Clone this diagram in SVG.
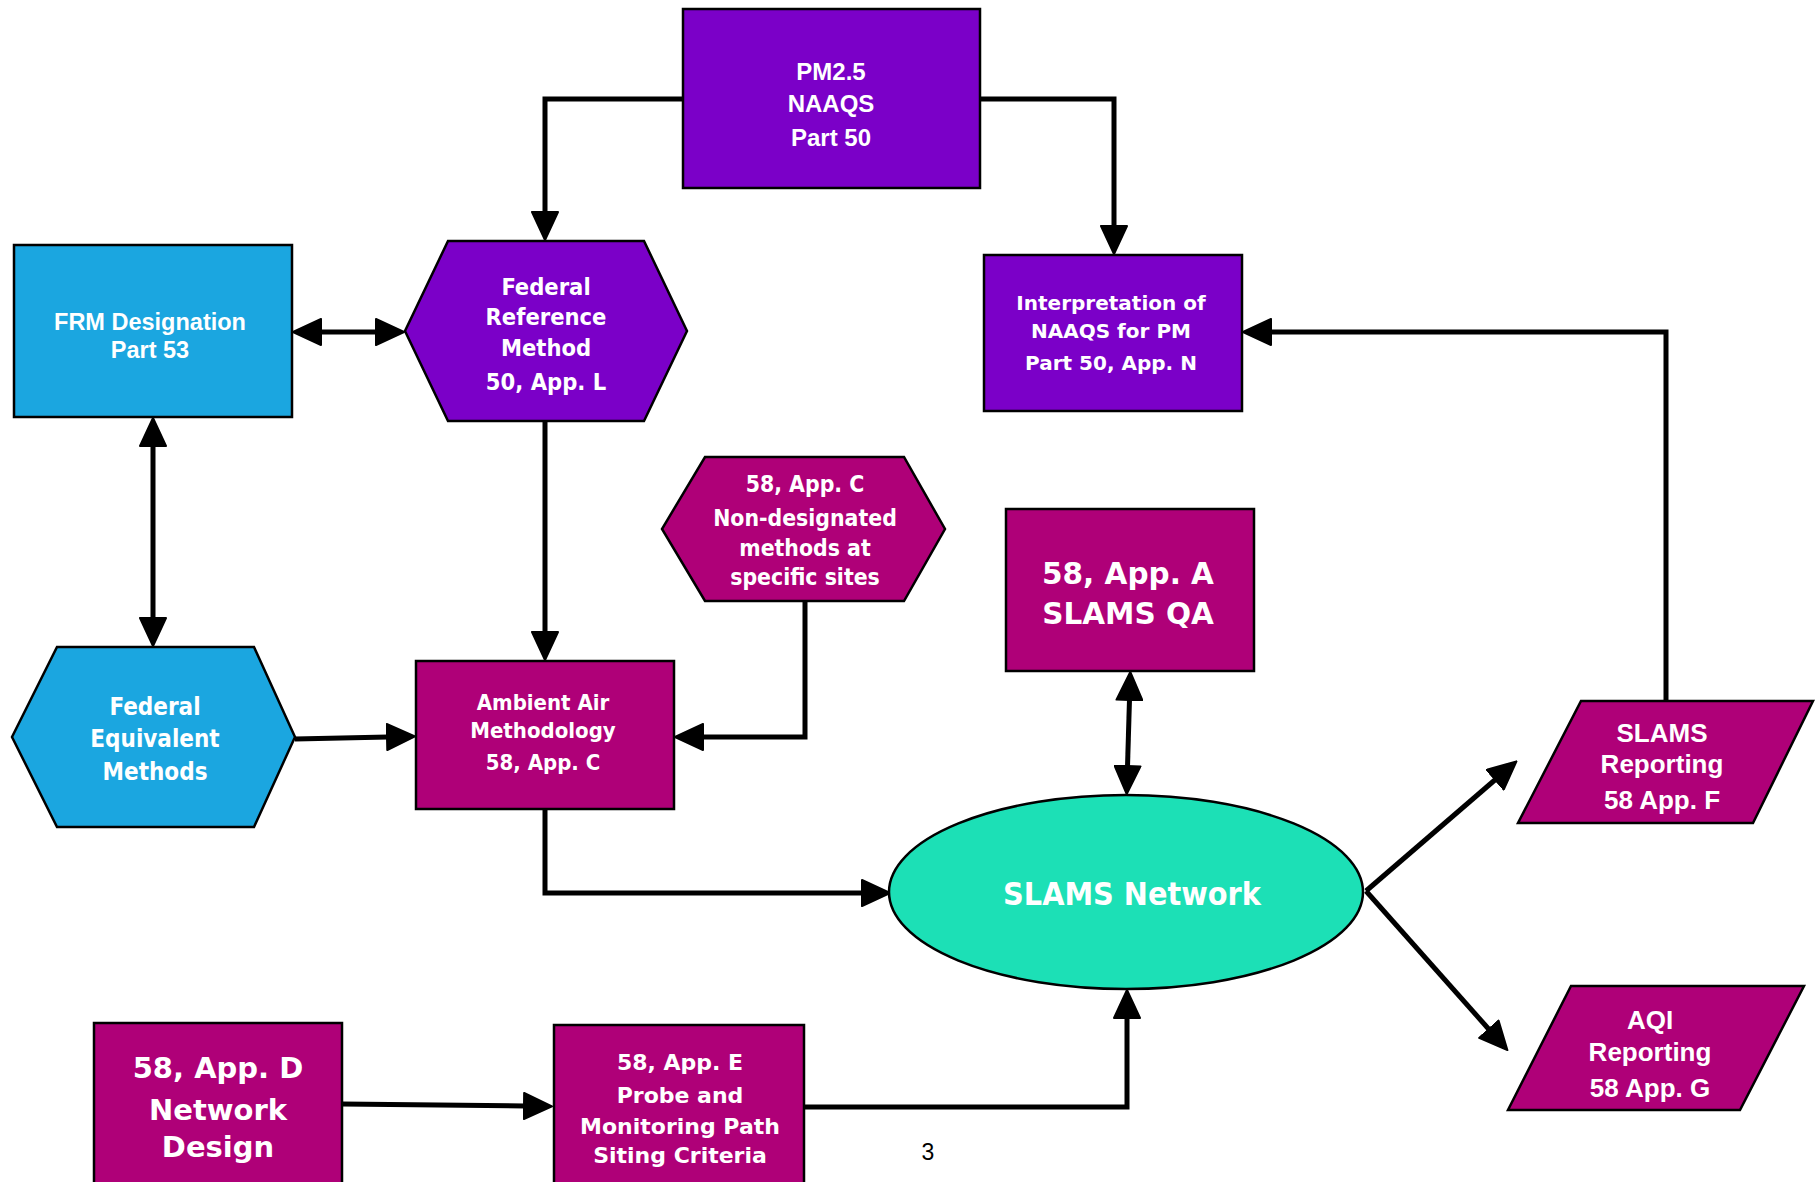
<svg xmlns="http://www.w3.org/2000/svg" width="1816" height="1182" viewBox="0 0 1816 1182">
<style>
.purple{fill:#7B00C8;stroke:#000;stroke-width:2.5}
.blue{fill:#1BA6E0;stroke:#000;stroke-width:2.5}
.mag{fill:#AF0078;stroke:#000;stroke-width:2.5}
.teal{fill:#1CE0B6;stroke:#000;stroke-width:2.5}
.v{font-family:"DejaVu Sans",Verdana,sans-serif;font-weight:bold;fill:#fff;text-anchor:middle}
.c{font-family:"DejaVu Sans Condensed","DejaVu Sans",sans-serif;font-stretch:condensed;font-weight:bold;fill:#fff;text-anchor:middle}
.a{font-family:"Liberation Sans",Arial,sans-serif;font-weight:bold;fill:#fff;text-anchor:middle}
.conn path{fill:none;stroke:#000;stroke-width:5;stroke-linejoin:miter;marker-end:url(#ah)}
.conn path.both{marker-start:url(#ah)}
</style>
<defs>
<marker id="ah" viewBox="0 0 30 28" refX="2" refY="14" markerWidth="30" markerHeight="28" markerUnits="userSpaceOnUse" orient="auto-start-reverse">
<path d="M1,1 L29,14 L1,27 Z" fill="#000" stroke="#000" stroke-width="2" stroke-linejoin="round"/>
</marker>
</defs>
<rect width="1816" height="1182" fill="#fff"/>

<g class="conn">
<path d="M683,99 H545 V213"/>
<path d="M980,99 H1114 V227"/>
<path class="both" d="M320,332 H377"/>
<path class="both" d="M153,445 V619"/>
<path d="M545,421 V633"/>
<path d="M295,739 L388,737"/>
<path d="M805,601 V737 H702"/>
<path d="M545,809 V893 H863"/>
<path class="both" d="M1129.5,699 L1127.5,767"/>
<path d="M1366,891 L1496,779"/>
<path d="M1366,891 L1489.5,1030"/>
<path d="M1666,701 V332 H1270"/>
<path d="M342,1104 L525,1106"/>
<path d="M804,1107 H1127 V1017"/>
</g>

<g id="pm25">
<rect class="purple" x="683" y="9" width="297" height="179"/>
<text class="a" font-size="24" x="831" y="80">PM2.5</text>
<text class="a" font-size="24" x="831" y="112">NAAQS</text>
<text class="a" font-size="24" x="831" y="146">Part 50</text>
</g>

<g id="frm-designation">
<rect class="blue" x="14" y="245" width="278" height="172"/>
<text class="a" font-size="23.5" x="150" y="330">FRM Designation</text>
<text class="a" font-size="23.5" x="150" y="358">Part 53</text>
</g>

<g id="frm">
<polygon class="purple" points="448,241 644,241 687,331 644,421 448,421 405,331"/>
<text class="c" font-size="23.5" x="546" y="295">Federal</text>
<text class="c" font-size="23.5" x="546" y="325">Reference</text>
<text class="c" font-size="23.5" x="546" y="356">Method</text>
<text class="c" font-size="23.5" x="546" y="390">50, App. L</text>
</g>

<g id="interpretation">
<rect class="purple" x="984" y="255" width="258" height="156"/>
<text class="v" font-size="20" x="1111" y="310">Interpretation of</text>
<text class="v" font-size="20" x="1111" y="338">NAAQS for PM</text>
<text class="v" font-size="20" x="1111" y="370">Part 50, App. N</text>
</g>

<g id="fem">
<polygon class="blue" points="57,647 254,647 295,737 254,827 57,827 12,737"/>
<text class="c" font-size="24" x="155" y="715">Federal</text>
<text class="c" font-size="24" x="155" y="747">Equivalent</text>
<text class="c" font-size="24" x="155" y="780">Methods</text>
</g>

<g id="ambient">
<rect class="mag" x="416" y="661" width="258" height="148"/>
<text class="c" font-size="22" x="543" y="710">Ambient Air</text>
<text class="c" font-size="22" x="543" y="738">Methodology</text>
<text class="c" font-size="22" x="543" y="770">58, App. C</text>
</g>

<g id="non-designated">
<polygon class="mag" points="705,457 904,457 945,529 904,601 705,601 662,529"/>
<text class="c" font-size="22.8" x="805" y="492">58, App. C</text>
<text class="c" font-size="22.8" x="805" y="526">Non-designated</text>
<text class="c" font-size="22.8" x="805" y="556">methods at</text>
<text class="c" font-size="22.8" x="805" y="585">specific sites</text>
</g>

<g id="app-a">
<rect class="mag" x="1006" y="509" width="248" height="162"/>
<text class="v" font-size="29.5" x="1128" y="584">58, App. A</text>
<text class="v" font-size="29.5" x="1128" y="624">SLAMS QA</text>
</g>

<g id="slams-network">
<ellipse class="teal" cx="1126" cy="892" rx="237" ry="97"/>
<text class="c" font-size="32" x="1132" y="905">SLAMS Network</text>
</g>

<g id="slams-reporting">
<polygon class="mag" points="1581,701 1813,701 1753,823 1518,823"/>
<text class="a" font-size="26" x="1662" y="742">SLAMS</text>
<text class="a" font-size="26" x="1662" y="773">Reporting</text>
<text class="a" font-size="26" x="1662" y="809">58 App. F</text>
</g>

<g id="aqi-reporting">
<polygon class="mag" points="1571,986 1804,986 1740,1110 1508,1110"/>
<text class="a" font-size="26" x="1650" y="1029">AQI</text>
<text class="a" font-size="26" x="1650" y="1061">Reporting</text>
<text class="a" font-size="26" x="1650" y="1097">58 App. G</text>
</g>

<g id="app-d">
<rect class="mag" x="94" y="1023" width="248" height="170"/>
<text class="v" font-size="29" x="218" y="1078">58, App. D</text>
<text class="v" font-size="29" x="218" y="1120">Network</text>
<text class="v" font-size="29" x="218" y="1157">Design</text>
</g>

<g id="app-e">
<rect class="mag" x="554" y="1025" width="250" height="170"/>
<text class="v" font-size="22" x="680" y="1070">58, App. E</text>
<text class="v" font-size="22" x="680" y="1103">Probe and</text>
<text class="v" font-size="22" x="680" y="1134">Monitoring Path</text>
<text class="v" font-size="22" x="680" y="1163">Siting Criteria</text>
</g>

<text x="928" y="1160" font-family="Liberation Sans,Arial,sans-serif" font-size="23" text-anchor="middle" fill="#000">3</text>
</svg>
